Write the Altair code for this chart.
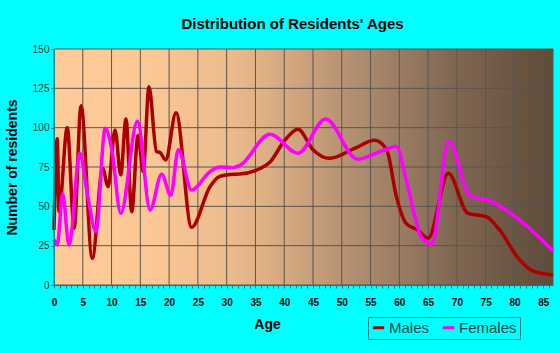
import altair as alt
import pandas as pd

# ---- data ----
AGES_M = [0, 0.57, 0.87, 2.3, 3.5, 4.7, 6.65, 8.45, 9.4, 10.6, 11.6, 12.5, 13.5, 14.6,
          15.5, 16.5, 17.8, 18.5, 19.4, 21.2, 23.9, 27.1, 28.8, 30.6, 32.3, 35.8, 37.5,
          40.1, 42.4, 45.0, 47.9, 52.3, 55.7, 57.8, 59.5, 61.2, 63.2, 65.0, 68.5, 71.9,
          75.1, 77.4, 80.9, 83.2, 86.7]
MALES = [35, 93, 46.6, 100, 36, 114, 17, 74, 62.5, 98.5, 70, 105.5, 46.6, 95,
         72, 126, 85, 84, 79.5, 109.5, 36.7, 62.5, 69, 70.3, 70.5, 74, 78,
         92, 99, 86, 80.5, 87, 92, 86, 56, 39, 35, 29.7, 71, 45.6,
         43.4, 35, 16, 9, 6.4]

AGES_F = [0, 0.57, 1.5, 2.6, 4.5, 5.7, 7.3, 8.9, 10.0, 11.6, 14.5, 16.7, 18.7, 20.3,
          21.6, 23.9, 27.1, 28.8, 31.1, 32.3, 37.5, 42.4, 47.2, 52.7, 56.6, 59.5, 61.2,
          63.8, 65.6, 68.6, 72.2, 75.7, 80.9, 86.7]
FEMALES = [29, 25.4, 58, 25.4, 83.7, 60, 34, 99.6, 87, 45.6, 104, 47.7, 70.4, 57,
           86, 60.4, 72, 75, 74.6, 76, 95.8, 83.7, 105.5, 80, 84.7, 88, 66.7,
           30.7, 26, 91.7, 57, 53.6, 41.3, 21.8]

SERIES = ["Males", "Females"]
COLORS = ["#AA0000", "#FF00FF"]

X_MAX = 86.7
Y_MAX = 150
X_GRID = list(range(0, 90, 5))
Y_GRID = [0, 25, 50, 75, 100, 125, 150]
X_MINOR = list(range(0, 87))

df = pd.concat([
    pd.DataFrame({"age": AGES_M, "n": MALES, "sex": "Males"}),
    pd.DataFrame({"age": AGES_F, "n": FEMALES, "sex": "Females"}),
], ignore_index=True)

W, H = 499, 236
FONT = "Liberation Sans"
TEAL = "#0a8080"
GRID = "#5a5550"

xscale = alt.Scale(domain=[0, X_MAX], nice=False, zero=False)
yscale = alt.Scale(domain=[0, Y_MAX], nice=False)

XAXIS = alt.Axis(
    values=X_MINOR,
    labelExpr="datum.value % 5 == 0 ? datum.label : ''",
    grid=False, tickSize=3, tickColor=TEAL, domainColor=TEAL,
    labelFont=FONT, labelFontSize=10, labelFontWeight="bold", labelColor="black",
    labelPadding=9, labelFlush=False, labelOverlap=False,
    title="Age", titleFont=FONT, titleFontSize=14, titleFontWeight="bold",
    titleColor="black", titleX=213, titleY=39, titleBaseline="middle",
    titleAlign="center", zindex=1,
)
YAXIS = alt.Axis(
    values=Y_GRID, grid=False, tickSize=3, tickColor=TEAL, domainColor=TEAL,
    labelFont=FONT, labelFontSize=10, labelColor="#333333", labelPadding=2,
    title="Number of residents", titleFont=FONT, titleFontSize=14,
    titleFontWeight="bold", titleColor="black", titleX=-42, titleY=H / 2,
    titleAngle=270, titleAlign="center", titleBaseline="middle", zindex=1,
)

gradient = alt.LinearGradient(
    gradient="linear", x1=0, x2=1, y1=0, y2=0,
    stops=[
        alt.GradientStop(color="#FFCC99", offset=0),
        alt.GradientStop(color="#FAC795", offset=0.2),
        alt.GradientStop(color="#EDBC8D", offset=0.35),
        alt.GradientStop(color="#CCA27C", offset=0.5),
        alt.GradientStop(color="#A5856A", offset=0.65),
        alt.GradientStop(color="#806752", offset=0.8),
        alt.GradientStop(color="#5E4B3A", offset=1),
    ],
)

bg = alt.Chart(pd.DataFrame({"x0": [0], "x1": [X_MAX], "y0": [0], "y1": [Y_MAX]})).mark_rect(
    fill=gradient
).encode(
    x=alt.X("x0:Q", scale=xscale, axis=XAXIS),
    x2="x1:Q",
    y=alt.Y("y0:Q", scale=yscale, axis=YAXIS),
    y2="y1:Q",
)

vgrid = alt.Chart(pd.DataFrame({"x0": X_GRID + [X_MAX]})).mark_rule(
    color=GRID, strokeWidth=1
).encode(x=alt.X("x0:Q", scale=xscale, axis=XAXIS))

hgrid = alt.Chart(pd.DataFrame({"y0": Y_GRID})).mark_rule(
    color=GRID, strokeWidth=1
).encode(y=alt.Y("y0:Q", scale=yscale, axis=YAXIS))

lines = alt.Chart(df).mark_line(interpolate="monotone", strokeWidth=3.5).encode(
    x=alt.X("age:Q", scale=xscale, axis=XAXIS),
    y=alt.Y("n:Q", scale=yscale, axis=YAXIS),
    color=alt.Color("sex:N", scale=alt.Scale(domain=SERIES, range=COLORS), legend=alt.Legend(
        title=None, orient="none", legendX=314, legendY=268, direction="horizontal",
        symbolType="stroke", symbolStrokeWidth=3, symbolSize=130,
        labelFont=FONT, labelFontSize=15, labelColor="#0b4a4a", labelOffset=3,
        columnPadding=6, padding=3, strokeColor=TEAL, fillColor="#00FFFF",
    )),
    order=alt.Order("age:Q"),
)

chart = alt.layer(bg, vgrid, hgrid, lines).properties(
    width=W, height=H,
    title=alt.Title("Distribution of Residents' Ages", font=FONT, fontSize=15,
                    fontWeight="bold", color="black", anchor="middle", dx=-11,
                    frame="group", baseline="alphabetic", offset=0),
    autosize=alt.AutoSizeParams(type="none"),
    padding={"left": 54, "top": 49, "right": 7, "bottom": 68},
).configure(background="#00FFFF").configure_view(stroke=None)

chart.save("out.html", embed_options={"renderer": "svg", "actions": False})
